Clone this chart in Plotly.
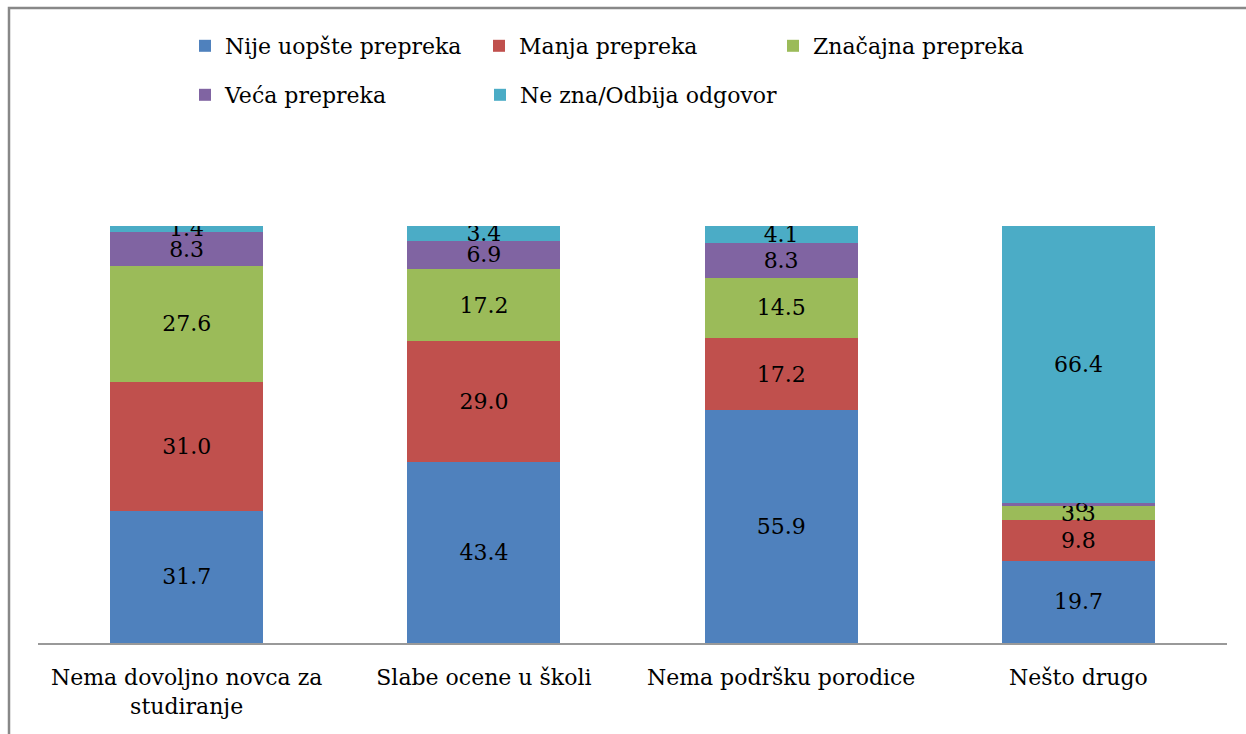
import plotly.graph_objects as go

categories = ["Nema dovoljno novca za<br>studiranje", "Slabe ocene u školi",
              "Nema podršku porodice", "Nešto drugo"]
series_names = ["Nije uopšte prepreka", "Manja prepreka", "Značajna prepreka",
                "Veća prepreka", "Ne zna/Odbija odgovor"]
nije = [31.7, 43.4, 55.9, 19.7]
manja = [31.0, 29.0, 17.2, 9.8]
znacajna = [27.6, 17.2, 14.5, 3.3]
veca = [8.3, 6.9, 8.3, 0.8]
ne_zna = [1.4, 3.4, 4.1, 66.4]
colors = ["#4F81BD", "#C0504D", "#9BBB59", "#8064A2", "#4BACC6"]
legend_ids = ["legend", "legend", "legend", "legend2", "legend3"]

FONT = "DejaVu Serif"
FS = 22
W, H = 1246, 734
L, R, T, B = 38, 19, 226, 91
pw, ph = W - L - R, H - T - B

def fmt(v):
    s = f"{v:.1f}"
    return s[1:] if s.startswith("0.") else s

fig = go.Figure()
all_vals = [nije, manja, znacajna, veca, ne_zna]
for name, vals, c, lg in zip(series_names, all_vals, colors, legend_ids):
    fig.add_trace(go.Bar(
        x=categories, y=vals, name=name, marker=dict(color=c, line=dict(width=0)),
        text=[fmt(v) for v in vals], textposition="inside", insidetextanchor="middle",
        textangle=0, constraintext="none",
        textfont=dict(family=FONT, size=FS, color="black"),
        legend=lg,
        hoverinfo="skip",
    ))

def px_to_paper_x(px):
    return (px - L) / pw

def px_to_paper_y(py):
    return (H - B - py) / ph

legend_common = dict(orientation="h", xanchor="left", yanchor="middle",
                     font=dict(family=FONT, size=FS, color="black"),
                     bgcolor="rgba(0,0,0,0)", traceorder="normal")

fig.update_layout(
    width=W, height=H, barmode="stack", bargap=0.485,
    margin=dict(l=L, r=R, t=T, b=B),
    paper_bgcolor="white", plot_bgcolor="white",
    uniformtext=dict(minsize=FS, mode="show"),
    legend=dict(x=px_to_paper_x(185), y=px_to_paper_y(46),
                entrywidth=249, entrywidthmode="pixels", **legend_common),
    legend2=dict(x=px_to_paper_x(185), y=px_to_paper_y(95), **legend_common),
    legend3=dict(x=px_to_paper_x(480), y=px_to_paper_y(95), **legend_common),
    xaxis=dict(showline=True, linecolor="#999999", linewidth=2, ticks="",
               ticklabelstandoff=14,
               tickfont=dict(family=FONT, size=FS, color="black"), showgrid=False),
    yaxis=dict(visible=False, range=[0, 100], showgrid=False),
    shapes=[dict(type="rect", xref="paper", yref="paper",
                 x0=px_to_paper_x(9), x1=px_to_paper_x(W + 20),
                 y0=px_to_paper_y(H + 20), y1=px_to_paper_y(8),
                 line=dict(color="#888888", width=2.5), fillcolor="rgba(0,0,0,0)",
                 layer="below")],
)
fig.write_html("out.html", config={"displayModeBar": False},
               post_script="document.body.style.margin='0px';document.body.style.padding='0px';")
